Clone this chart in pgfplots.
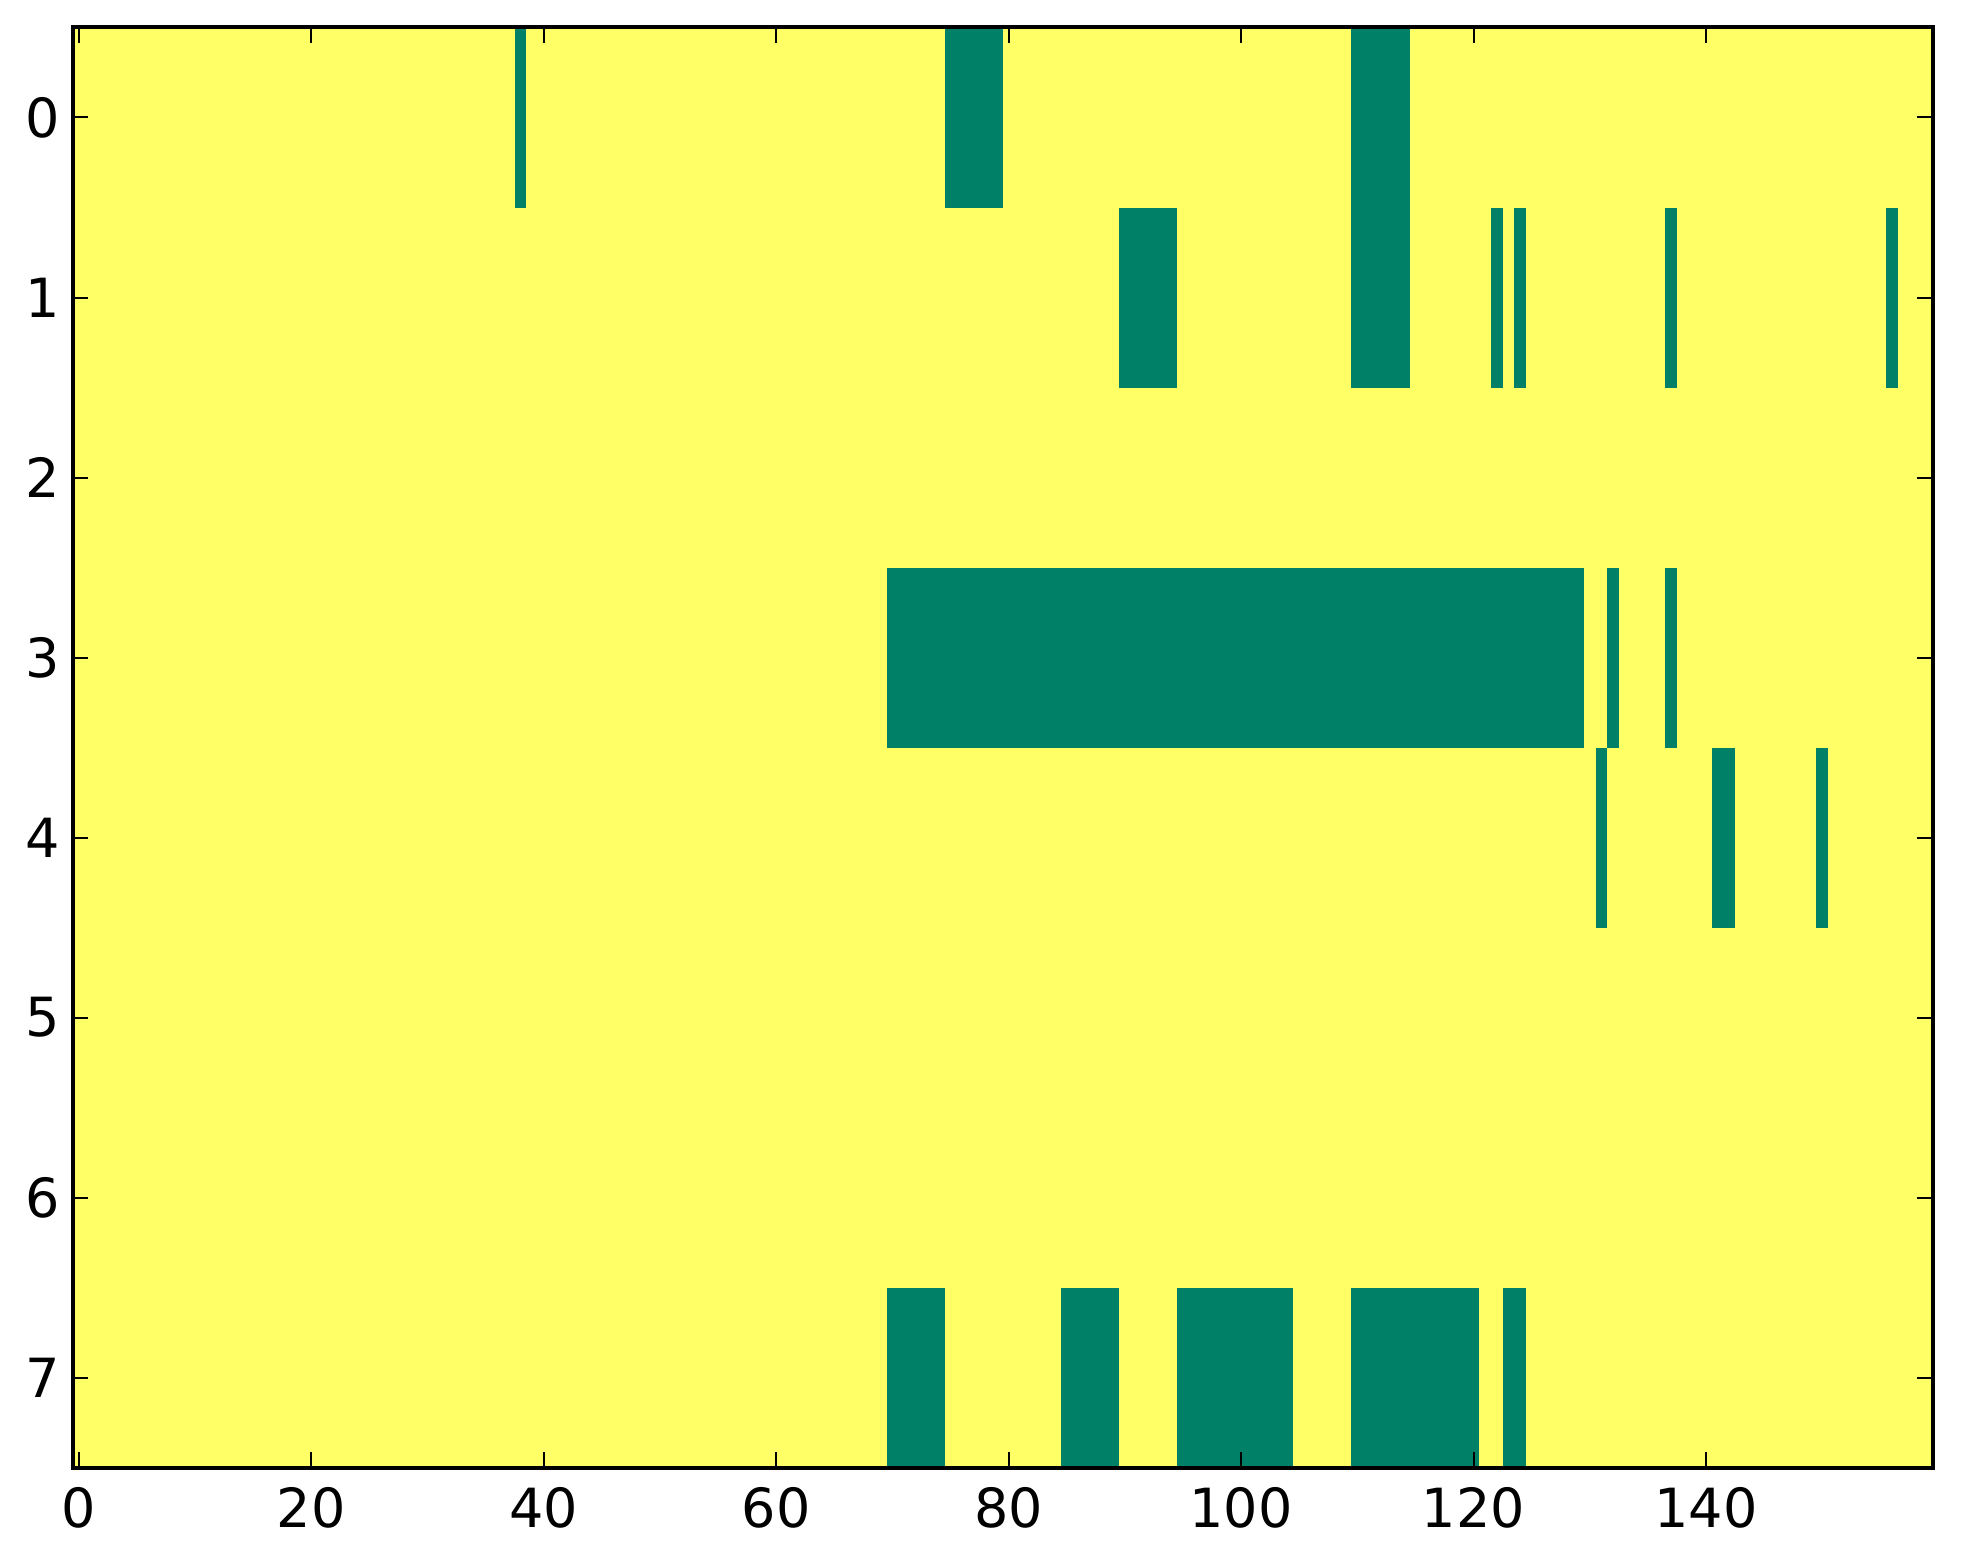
\documentclass[border=0pt]{standalone}
\usepackage{pgfplots}
\pgfplotsset{compat=1.18}
\usepackage{fontspec}
\setmainfont{DejaVu Sans}
\definecolor{sgreen}{rgb}{0,0.5,0.4}
\definecolor{syellow}{rgb}{1,1,0.4}
\begin{document}
\begin{tikzpicture}
\begin{axis}[
  name=ax,
  scale only axis,
  width=413.2pt, height=320pt,
  xmin=-0.5, xmax=159.5,
  ymin=-0.5, ymax=7.5,
  y dir=reverse,
  xtick={0,20,40,60,80,100,120,140},
  ytick={0,1,2,3,4,5,6,7},
  tick align=inside,
  major tick length=3.4pt,
  every tick/.style={black, line width=0.45pt},
  axis line style={line width=0.9pt},
  axis background/.style={fill=syellow},
  axis on top,
  /pgf/number format/assume math mode=true,
  tick label style={font=\fontsize{12}{14}\selectfont},
  xticklabel style={yshift=-0.8pt},
  yticklabel style={xshift=0.6pt},
]
% row 0
\addplot[fill=sgreen, draw=none] coordinates {(37.5,-0.5) (38.5,-0.5) (38.5,0.5) (37.5,0.5)} -- cycle;
\addplot[fill=sgreen, draw=none] coordinates {(74.5,-0.5) (79.5,-0.5) (79.5,0.5) (74.5,0.5)} -- cycle;
\addplot[fill=sgreen, draw=none] coordinates {(109.5,-0.5) (114.5,-0.5) (114.5,1.5) (109.5,1.5)} -- cycle;
% row 1
\addplot[fill=sgreen, draw=none] coordinates {(89.5,0.5) (94.5,0.5) (94.5,1.5) (89.5,1.5)} -- cycle;
\addplot[fill=sgreen, draw=none] coordinates {(121.5,0.5) (122.5,0.5) (122.5,1.5) (121.5,1.5)} -- cycle;
\addplot[fill=sgreen, draw=none] coordinates {(123.5,0.5) (124.5,0.5) (124.5,1.5) (123.5,1.5)} -- cycle;
\addplot[fill=sgreen, draw=none] coordinates {(136.5,0.5) (137.5,0.5) (137.5,1.5) (136.5,1.5)} -- cycle;
\addplot[fill=sgreen, draw=none] coordinates {(155.5,0.5) (156.5,0.5) (156.5,1.5) (155.5,1.5)} -- cycle;
% row 3
\addplot[fill=sgreen, draw=none] coordinates {(69.5,2.5) (129.5,2.5) (129.5,3.5) (69.5,3.5)} -- cycle;
\addplot[fill=sgreen, draw=none] coordinates {(131.5,2.5) (132.5,2.5) (132.5,3.5) (131.5,3.5)} -- cycle;
\addplot[fill=sgreen, draw=none] coordinates {(136.5,2.5) (137.5,2.5) (137.5,3.5) (136.5,3.5)} -- cycle;
% row 4
\addplot[fill=sgreen, draw=none] coordinates {(130.5,3.5) (131.5,3.5) (131.5,4.5) (130.5,4.5)} -- cycle;
\addplot[fill=sgreen, draw=none] coordinates {(140.5,3.5) (142.5,3.5) (142.5,4.5) (140.5,4.5)} -- cycle;
\addplot[fill=sgreen, draw=none] coordinates {(149.5,3.5) (150.5,3.5) (150.5,4.5) (149.5,4.5)} -- cycle;
% row 7
\addplot[fill=sgreen, draw=none] coordinates {(69.5,6.5) (74.5,6.5) (74.5,7.5) (69.5,7.5)} -- cycle;
\addplot[fill=sgreen, draw=none] coordinates {(84.5,6.5) (89.5,6.5) (89.5,7.5) (84.5,7.5)} -- cycle;
\addplot[fill=sgreen, draw=none] coordinates {(94.5,6.5) (104.5,6.5) (104.5,7.5) (94.5,7.5)} -- cycle;
\addplot[fill=sgreen, draw=none] coordinates {(109.5,6.5) (120.5,6.5) (120.5,7.5) (109.5,7.5)} -- cycle;
\addplot[fill=sgreen, draw=none] coordinates {(122.5,6.5) (124.5,6.5) (124.5,7.5) (122.5,7.5)} -- cycle;
\end{axis}
\pgfresetboundingbox
\path ([shift={(-16.2pt,-21.5pt)}]ax.south west) rectangle ([shift={(6.75pt,6.1pt)}]ax.north east);
\end{tikzpicture}
\end{document}
